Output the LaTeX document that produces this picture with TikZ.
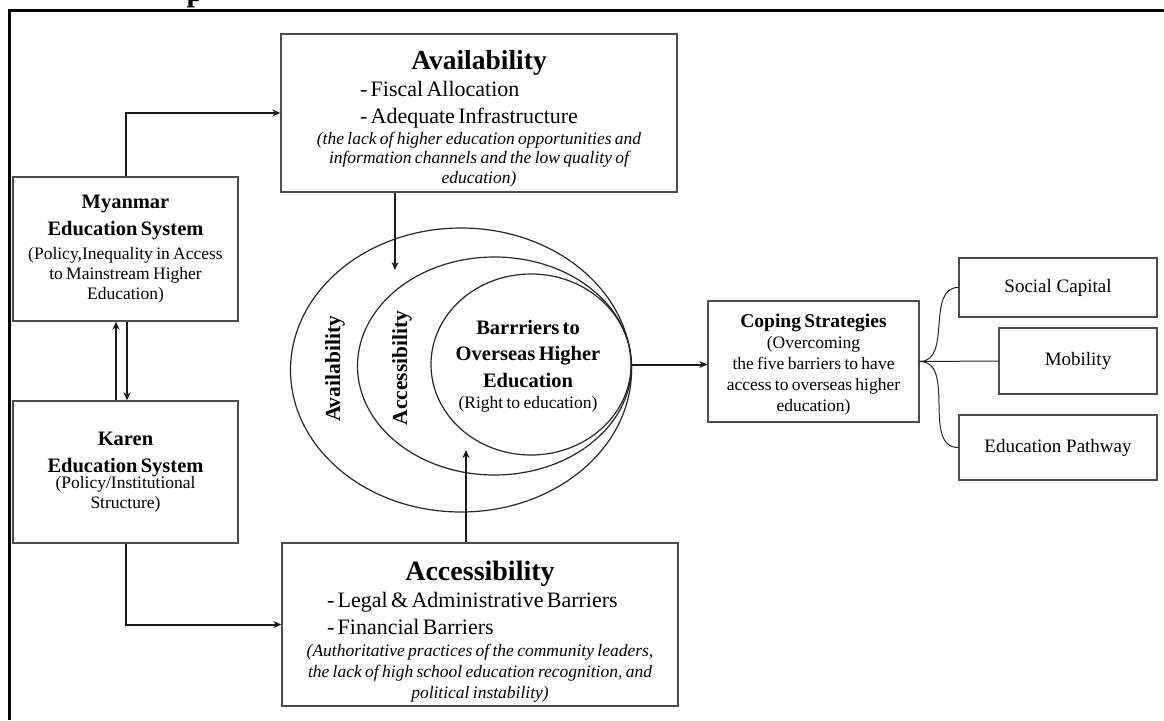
\documentclass[tikz,border=0pt]{standalone}
\usepackage{fontspec}
\setmainfont{Liberation Serif}
\usetikzlibrary{arrows.meta,shapes.geometric}
\newcommand\fsz[2]{\fontsize{#1pt}{#2pt}\selectfont}
\begin{document}
\begin{tikzpicture}[x=1pt,y=-1pt,
  box/.style={draw=black!70, line width=1.4pt, inner sep=4pt, align=center, fill=white},
  arr/.style={-{Stealth[length=8pt,width=7pt]}, line width=2pt, black!90},
  link/.style={line width=1pt, black!85},
  ring/.style={ellipse, draw=black!85, line width=1.2pt, inner sep=0pt},
  framel/.style={line width=3pt, black}]
\useasboundingbox (0,0) rectangle (1164,720);

% frame
\draw[framel] (9,720) -- (9,10) -- (1164,10);
\begin{scope}
\clip (0,0) rectangle (1164,10);
\node[font=\fsz{30}{34}\bfseries, anchor=base west, inner sep=0pt] (ptop) at (186.5,1.5) {p};
\end{scope}

% ellipses
\node[ring, minimum width=341pt, minimum height=284pt] (outer) at (461,370) {};
\node[ring, minimum width=274pt, minimum height=218pt] (middle) at (494.5,366) {};
\node[ring, minimum width=200pt, minimum height=181pt] (inner) at (531,364.5) {};
\node[rotate=90, font=\fsz{21.5}{24}\bfseries] (lavail) at (335,369) {Availability};
\node[rotate=90, font=\fsz{21.5}{24}\bfseries] (lacc) at (402,368) {Accessibility};
\node[align=center, inner sep=0pt, text width=190pt] (barr) at (528,366) {%
{\fsz{20.5}{26.7}\bfseries Barrriers to\\ Overseas Higher\\ Education\par}
\vspace{1pt}
{\fsz{17.5}{20}(Right to education)\par}};

% availability box
\node[box, minimum width=396pt, minimum height=158pt, text width=388pt] (avail) at (479,113) {%
{\fsz{27.5}{30}\bfseries\rule{0pt}{31pt}Availability\par}
{\fsz{22}{26.7}\makebox[238pt][l]{- Fiscal Allocation}\par
\makebox[238pt][l]{- Adequate Infrastructure}\par}
\vspace{1.5pt}
{\fsz{17.5}{19.5}\itshape (the lack of higher education opportunities and\\ information channels and the low quality of\\ education)\par}};

% accessibility box
\node[box, minimum width=396pt, minimum height=163pt, text width=388pt] (acc) at (480,624.5) {%
{\fsz{28}{30}\bfseries\rule{0pt}{34pt}Accessibility\par}
{\fsz{22}{26.7}\makebox[306pt][l]{- Legal \& Administrative Barriers}\par
\makebox[306pt][l]{- Financial Barriers}\par}
\vspace{1.5pt}
{\fsz{17.5}{20.8}\itshape (Authoritative practices of the community leaders,\\ the lack of high school education recognition, and\\ political instability)\par}};

% Myanmar box
\node[box, minimum width=225pt, minimum height=144pt, text width=217pt] (mya) at (125.5,249) {%
{\fsz{20.5}{26.7}\bfseries Myanmar\\ Education System\par}
\vspace{4pt}
{\fsz{17.5}{20}(Policy,Inequality in Access\\ to Mainstream Higher\\ Education)\par}};

% Karen box
\node[box, minimum width=225pt, minimum height=142pt, text width=217pt] (kar) at (125.5,472) {%
{\fsz{20.5}{26.7}\bfseries Karen\\ Education System\par}
\vspace{-4pt}
{\fsz{17.5}{20}(Policy/Institutional\\ Structure)\par}
\vspace{10pt}};

% coping box
\node[box, minimum width=211pt, minimum height=121pt, text width=203pt] (cope) at (813.5,361.5) {%
{\fsz{19.5}{22}\bfseries\rule{0pt}{19.5pt}Coping Strategies\par}
{\fsz{17.5}{21}(Overcoming\\ the five barriers to have\\ access to overseas higher\\ education)\par}};

\node[box, minimum width=198pt, minimum height=59pt, font=\fsz{19}{22}] (soc) at (1058,287.5) {Social Capital};
\node[box, minimum width=158pt, minimum height=66pt, font=\fsz{19}{22}] (mob) at (1078,361) {Mobility};
\node[box, minimum width=198pt, minimum height=65pt, font=\fsz{19}{22}] (edu) at (1058,447.5) {Education Pathway};

% connectors
\draw[arr] (mya.north) |- (avail.west);
\draw[arr] (kar.south) |- (acc.west);
\draw[arr] ([xshift=-9.5pt]kar.north) -- ([xshift=-9.5pt]mya.south);
\draw[arr] ([xshift=1.5pt]mya.south) -- ([xshift=1.5pt]kar.north);
\coordinate (t1) at (395,270);
\coordinate (t2) at (466,450);
\draw[arr] (avail.south -| t1) -- (t1);
\draw[arr] (acc.north -| t2) -- (t2);
\draw[arr] (inner.east) -- (inner.east -| cope.west);
\draw[link] (cope.east) to[out=0,in=180] (soc.west);
\draw[link] (cope.east) -- (mob.west);
\draw[link] (cope.east) to[out=0,in=180] (edu.west);
\end{tikzpicture}
\end{document}
